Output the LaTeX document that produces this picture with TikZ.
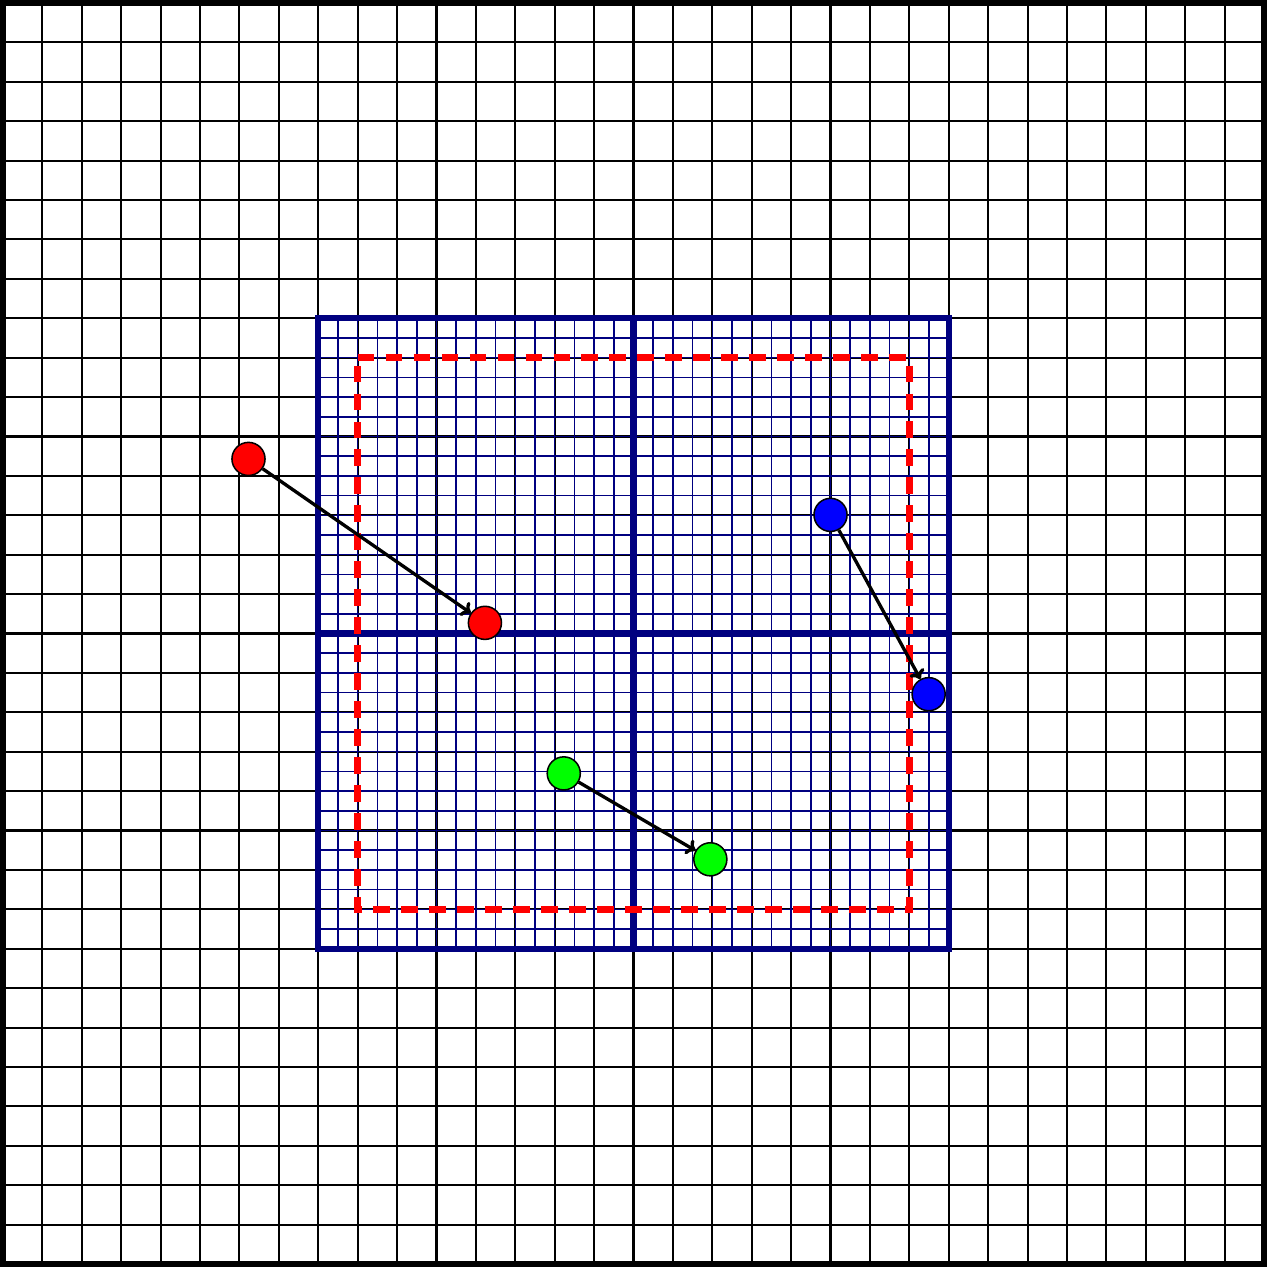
\documentclass[tikz,border=0pt]{standalone}
\usepackage{tikz}
\usetikzlibrary{arrows.meta,positioning,calc}
\usepackage{xcolor}
\definecolor{gridnavy}{RGB}{0,0,128}
\definecolor{ptgreen}{RGB}{0,255,0}
\definecolor{ptblue}{RGB}{0,0,255}
\tikzset{
  coarsegrid/.style={draw, line width=1.5pt, black},
  finegrid/.style={draw, line width=1.1pt, gridnavy},
  blockline/.style={draw, line width=4.6pt, gridnavy},
  haloline/.style={draw, line width=5pt, red, dash pattern=on 0.42cm off 0.29cm},
  ptdot/.style={circle, draw, line width=1.1pt, minimum size=0.84cm, inner sep=0pt},
  movearrow/.style={-{To[length=2.2mm, width=4.2mm]}, line width=2.4pt},
}

\begin{document}
\begin{tikzpicture}
  \useasboundingbox (-0.076,-0.076) rectangle (32.076,32.076);
  % coarse background grid
  \draw[coarsegrid, step=1] (0,0) grid (32,32);
  \draw[line width=0.152cm] (0,0) rectangle (32,32);

  % refined block
  \draw[finegrid, step=0.5] (8,8) grid (24,24);
  \draw[blockline] (8,8) rectangle (24,24);
  \draw[blockline] (16,8) -- (16,24);
  \draw[blockline] (8,16) -- (24,16);

  % halo boundary
  \draw[haloline] (9,23) -- (23,23) -- (23,9) -- (9,9) -- cycle;

  % particles
  \node[ptdot, fill=red] (r0) at (6.23,20.43) {};
  \node[ptdot, fill=red] (r1) at (12.23,16.27) {};
  \node[ptdot, fill=ptblue] (b0) at (21.0,19.01) {};
  \node[ptdot, fill=ptblue] (b1) at (23.49,14.46) {};
  \node[ptdot, fill=ptgreen] (g0) at (14.23,12.45) {};
  \node[ptdot, fill=ptgreen] (g1) at (17.95,10.27) {};

  \draw[movearrow] (r0) -- (r1);
  \draw[movearrow] (b0) -- (b1);
  \draw[movearrow] (g0) -- (g1);
\end{tikzpicture}
\end{document}
